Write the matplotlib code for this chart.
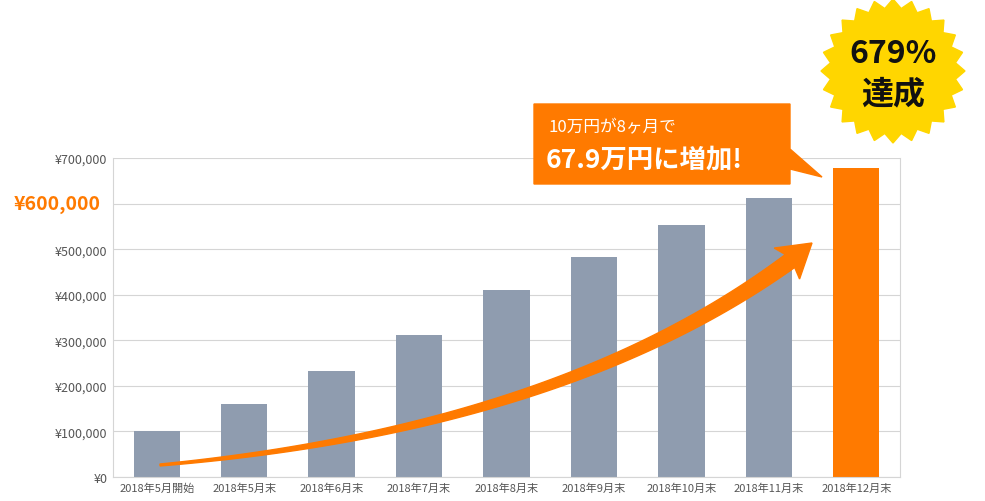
import numpy as np
import matplotlib
matplotlib.use("Agg")
import matplotlib.pyplot as plt
from matplotlib.patches import Polygon

plt.rcParams['font.family'] = ['Noto Sans CJK JP', 'DejaVu Sans']

categories = ["2018年5月開始", "2018年5月末", "2018年6月末", "2018年7月末", "2018年8月末",
              "2018年9月末", "2018年10月末", "2018年11月末", "2018年12月末"]
values = [100000, 160000, 232000, 311000, 410000, 483000, 553000, 612000, 679000]
yticks = [0, 100000, 200000, 300000, 400000, 500000, 600000, 700000]

GRAY = "#8f9caf"
ORANGE = "#ff7a00"
W, H = 985, 502
fig = plt.figure(figsize=(9.85, 5.02), dpi=100)
ax = fig.add_axes([113/W, (H-478)/H, 787/W, 319/H])
x = np.arange(len(categories))
colors = [GRAY]*(len(values)-1) + [ORANGE]
ax.bar(x, values, width=0.53, color=colors, zorder=2)
ax.set_xlim(-0.5, len(categories)-0.5)
ax.set_ylim(0, 700000)
ax.set_yticks(yticks)
labels = []
for v in yticks:
    labels.append("" if v == 600000 else f"¥{v:,}")
ax.set_yticklabels(labels, fontsize=9, color="#555555")
ax.set_xticks(x)
ax.set_xticklabels(categories, fontsize=8, color="#555555")
ax.tick_params(length=0, pad=4)
ax.grid(axis='y', color="#d5d5d5", lw=0.8, zorder=0)
for s in ax.spines.values():
    s.set_color("#d5d5d5")
ax.spines['top'].set_visible(False)
ax.annotate("¥600,000", xy=(0, 600000), xycoords=ax.get_yaxis_transform(),
            xytext=(-9, 0), textcoords='offset points', ha='right', va='center',
            fontsize=14, fontweight='bold', color=ORANGE)

ov = fig.add_axes([0, 0, 1, 1])
ov.set_xlim(0, W); ov.set_ylim(H, 0); ov.axis('off')

p0 = np.array([160, 466]); p1 = np.array([560, 430]); p2 = np.array([790, 262])
t = np.linspace(0, 1, 80)
pts = (1-t)[:, None]**2*p0 + 2*((1-t)*t)[:, None]*p1 + (t**2)[:, None]*p2
d = np.gradient(pts, axis=0)
n = np.stack([-d[:, 1], d[:, 0]], 1); n /= np.linalg.norm(n, axis=1)[:, None]
w = 1 + 7*t
left = pts + n*w[:, None]; right = pts - n*w[:, None]
tip = np.array([812, 244])
dirv = (tip - pts[-1]); dirv = dirv/np.linalg.norm(dirv)
nn = np.array([-dirv[1], dirv[0]])
head = [pts[-1] + nn*20 - dirv*4, tip, pts[-1] - nn*20 - dirv*4]
poly = np.vstack([left, [head[0]], [head[1]], [head[2]], right[::-1]])
ov.add_patch(Polygon(poly, closed=True, color=ORANGE, zorder=5))

ov.add_patch(Polygon([[534, 105], [790, 105], [790, 150], [822, 178], [790, 170], [790, 185], [534, 185]],
                     closed=True, color=ORANGE, zorder=5))
ov.text(548, 128, "10万円が8ヶ月で", color="white", fontsize=12, va='center', zorder=6)
ov.text(546, 160, "67.9万円に増加!", color="white", fontsize=19, fontweight='bold', va='center', zorder=6)

cx, cy = 893, 72
ang = np.linspace(0, 2*np.pi, 49)[:-1]
r = np.where(np.arange(48) % 2 == 0, 72, 63)
star = np.stack([cx + r*np.cos(ang), cy + r*np.sin(ang)], 1)
ov.add_patch(Polygon(star, closed=True, color="#ffd600", zorder=5))
ov.text(cx, cy-18, "679%", ha='center', va='center', fontsize=23, fontweight='bold', color="#111111", zorder=6)
ov.text(cx, cy+22, "達成", ha='center', va='center', fontsize=23, fontweight='bold', color="#111111", zorder=6)

fig.savefig("out.png", dpi=100)
